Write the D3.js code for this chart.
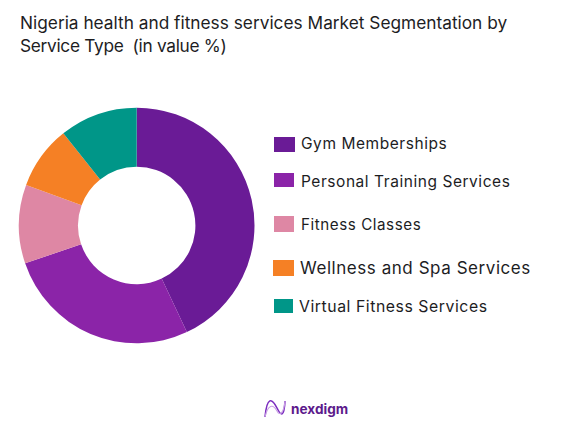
<!DOCTYPE html>
<html>
<head>
<meta charset="utf-8">
<script src="https://cdn.jsdelivr.net/npm/d3@7"></script>
<style>
	html, body { margin: 0; padding: 0; background: #fff; }
	svg { display: block; }
	text { font-family: Inter, Lato, sans-serif; fill: #1d1d1f; }
</style>
</head>
<body>
<svg id="chart" width="574" height="430"></svg>
<script>
// values
const segments = ["Gym Memberships", "Personal Training Services", "Fitness Classes", "Wellness and Spa Services", "Virtual Fitness Services"];
const shares = [43, 26.8, 10.8, 8.7, 10.7];
const colors = ["#6a1b96", "#8b24a8", "#de87a4", "#f58025", "#009688"];
const titleLines = ["Nigeria health and fitness services Market Segmentation by", "Service Type  (in value %)"];

// legend layout, the rows are not evenly spaced in the original
const swatchX = [274, 274, 274, 273, 274];
const swatchY = [137, 173, 216, 260, 299];
const swatchW = [21, 20, 20, 21, 19];
const swatchH = [15, 14, 16, 16, 14];
const labelX = [301, 301, 301, 300, 299];
const labelY = [149, 187, 230, 274, 312];
const labelSize = [15.5, 15.5, 15.2, 17, 15.8];

const svg = d3.select("#chart");

// title, second line runs a bit tighter in the original
svg.selectAll(".title")
	.data(titleLines)
	.enter()
	.append("text")
	.attr("class", "title")
	.attr("x", 20)
	.attr("y", (d, i) => 28.5 + i * 23.5)
	.attr("font-size", 17.3)
	.style("white-space", "pre")
	.style("letter-spacing", (d, i) => i ? "-0.3px" : "0")
	.text(d => d);

// donut
const pie = d3.pie().sort(null).value(d => d);
const arc = d3.arc().innerRadius(58.7).outerRadius(117.8);

svg.append("g")
	.attr("transform", "translate(136.7,225.5)")
	.selectAll("path")
	.data(pie(shares))
	.enter()
	.append("path")
	.attr("d", arc)
	.attr("fill", (d, i) => colors[i]);

// legend
const legend = svg.append("g");
legend.selectAll("rect")
	.data(segments)
	.enter()
	.append("rect")
	.attr("x", (d, i) => swatchX[i])
	.attr("y", (d, i) => swatchY[i])
	.attr("width", (d, i) => swatchW[i])
	.attr("height", (d, i) => swatchH[i])
	.attr("fill", (d, i) => colors[i]);
legend.selectAll("text")
	.data(segments)
	.enter()
	.append("text")
	.attr("x", (d, i) => labelX[i])
	.attr("y", (d, i) => labelY[i])
	.attr("font-size", (d, i) => labelSize[i])
	.style("letter-spacing", "0.55px")
	.text(d => d);

// nexdigm logo
const logo = svg.append("g").attr("fill", "none");
logo.append("path")
	.attr("d", "M265 417 C267 396 272 398 277 408 C281 416 284 418 285 401")
	.attr("stroke", "#7b2cbf")
	.attr("stroke-width", 1.6);
logo.append("path")
	.attr("d", "M265 417 C268 404 273 404 277 411 C280 417 284 412 285 401")
	.attr("stroke", "#c9a0e4")
	.attr("stroke-width", 1.1);
svg.append("text")
	.attr("x", 291)
	.attr("y", 413.5)
	.attr("font-size", 13.6)
	.attr("font-weight", 700)
	.style("fill", "#5c1a8c")
	.text("nexdigm");
</script>
</body>
</html>
